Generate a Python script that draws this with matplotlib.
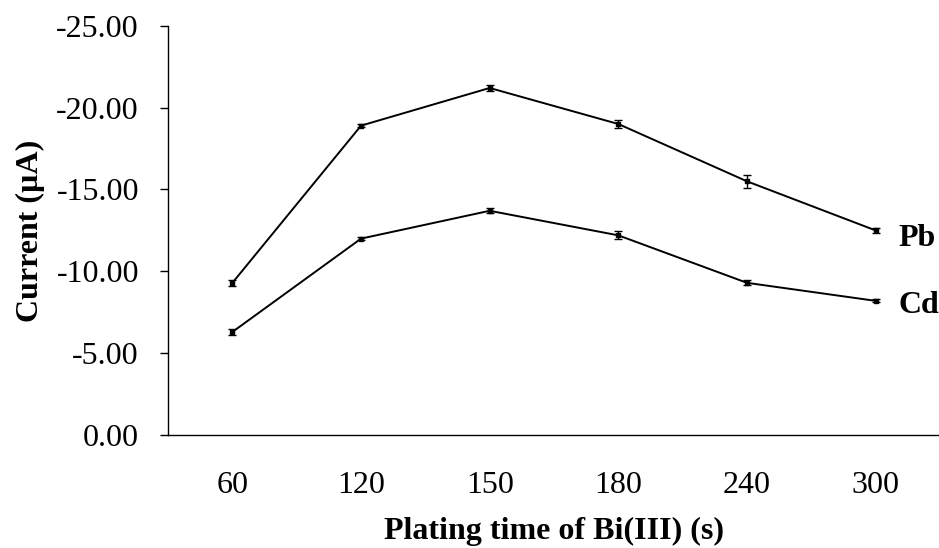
import numpy as np
import matplotlib.pyplot as plt
from matplotlib.ticker import FormatStrFormatter

# Plating time categories and currents (uA)
times = ['60', '120', '150', '180', '240', '300']
pb = [-9.3, -18.9, -21.2, -19.0, -15.5, -12.5]
pb_err = [0.2, 0.1, 0.2, 0.25, 0.4, 0.15]
cd = [-6.3, -12.0, -13.7, -12.2, -9.3, -8.2]
cd_err = [0.2, 0.1, 0.15, 0.25, 0.15, 0.1]

plt.rcParams['font.family'] = ['Liberation Serif', 'DejaVu Serif']

fig = plt.figure(figsize=(9.39, 5.48), dpi=100)
ax = fig.add_axes([0.179, 0.206, 0.822, 0.747])

x = np.arange(len(times))
for vals, errs in [(pb, pb_err), (cd, cd_err)]:
    ax.errorbar(x, vals, yerr=errs, color='black', lw=1.4, marker='s', ms=2.8,
                capsize=3, elinewidth=1.0, capthick=1.0)

# series labels next to the last point
ax.text(x[-1] + 0.18, pb[-1] + 0.5, 'Pb', fontsize=23, fontweight='bold', va='center', ha='left')
ax.text(x[-1] + 0.18, cd[-1] + 0.3, 'Cd', fontsize=23, fontweight='bold', va='center', ha='left')

ax.set_xlim(-0.5, len(times) - 0.5)
ax.set_ylim(0, -25)
ax.set_yticks(np.arange(0, -26, -5))
ax.yaxis.set_major_formatter(FormatStrFormatter('%.2f'))
ax.set_xticks(x)
ax.set_xticklabels(times)
ax.tick_params(axis='x', length=0, labelsize=23, pad=26)
ax.tick_params(axis='y', length=6, labelsize=23, pad=15, width=1)

for s in ['top', 'right']:
    ax.spines[s].set_visible(False)
for s in ['left', 'bottom']:
    ax.spines[s].set_linewidth(1)

ax.set_xlabel('Plating time of Bi(III) (s)', fontsize=23, fontweight='bold', labelpad=12)
ax.set_ylabel('Current (\u00b5A)', fontsize=23, fontweight='bold', labelpad=8)

fig.savefig('out.png', dpi=100)
